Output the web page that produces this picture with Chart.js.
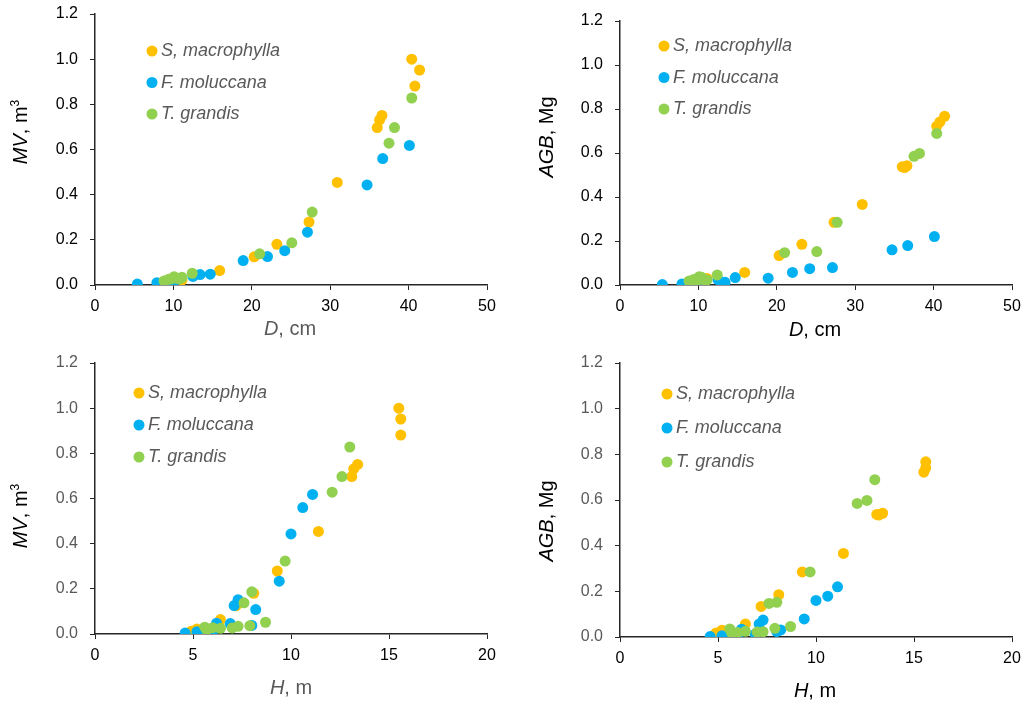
<!DOCTYPE html>
<html>
<head>
<meta charset="utf-8">
<title>MV and AGB vs D and H</title>
<script src="https://cdn.jsdelivr.net/npm/chart.js@4.4.1/dist/chart.umd.min.js"></script>
<style>
  body { margin: 0; background: #fff; }
  .panel { position: absolute; }
</style>
</head>
<body>
<div class="panel" style="left:0;top:0;width:514px;height:350px"><canvas id="mvD"></canvas></div>
<div class="panel" style="left:514px;top:0;width:514px;height:350px"><canvas id="agbD"></canvas></div>
<div class="panel" style="left:0;top:350px;width:514px;height:353px"><canvas id="mvH"></canvas></div>
<div class="panel" style="left:514px;top:350px;width:514px;height:353px"><canvas id="agbH"></canvas></div>
<script>
// --- data (one entry per tree) ---
const species = ['S, macrophylla', 'F. moluccana', 'T. grandis'];

const smD   = [41.4, 40.8, 40.4, 36.6, 36.3, 36.0, 30.9, 27.3, 23.2, 20.3, 15.9, 11.1, 9.2];
const smH   = [15.6, 15.6, 15.5, 13.4, 13.2, 13.1, 11.4, 9.3, 8.1, 7.2, 6.4, 5.2, 4.9];
const smMV  = [0.952, 0.881, 1.000, 0.751, 0.731, 0.697, 0.454, 0.279, 0.180, 0.125, 0.064, 0.022, 0.012];
const smAGB = [0.767, 0.741, 0.722, 0.542, 0.534, 0.537, 0.366, 0.285, 0.185, 0.134, 0.057, 0.030, 0.018];

const fmD   = [40.1, 36.7, 34.7, 27.1, 24.2, 22.0, 18.9, 14.7, 13.4, 12.5, 10.0, 9.0, 7.9, 5.4];
const fmH   = [11.1, 10.6, 10.0, 9.4, 7.3, 7.1, 8.2, 6.2, 6.9, 8.0, 6.0, 5.7, 5.2, 4.6];
const fmMV  = [0.618, 0.560, 0.443, 0.234, 0.152, 0.126, 0.108, 0.048, 0.046, 0.038, 0.010, 0.006, 0.010, 0.004];
const fmAGB = [0.220, 0.179, 0.160, 0.079, 0.074, 0.057, 0.031, 0.034, 0.012, 0.024, 0.006, 0.002, 0.005, 0.002];

const tgD   = [40.4, 38.2, 37.5, 27.7, 25.1, 21.0, 12.4, 11.1, 10.8, 10.1, 10.4, 9.8, 9.4, 8.8];
const tgH   = [13.0, 12.6, 12.1, 9.7, 8.0, 7.6, 8.7, 7.3, 7.0, 7.9, 5.6, 6.0, 6.4, 5.7];
const tgMV  = [0.828, 0.697, 0.628, 0.323, 0.187, 0.138, 0.052, 0.034, 0.027, 0.037, 0.030, 0.028, 0.025, 0.018];
const tgAGB = [0.689, 0.598, 0.585, 0.285, 0.152, 0.147, 0.046, 0.023, 0.022, 0.038, 0.035, 0.020, 0.025, 0.018];

const colors = ['#FFC000', '#00B0F0', '#92D050'];
const FONT = '"Liberation Sans", Arial, sans-serif';
const GREY = '#595959';

function pairs(xs, ys) {
    return xs.map((x, i) => ({ x: x, y: ys[i] }));
}

function makeDatasets(xsets, ysets) {
    return species.map((name, i) => ({
        label: name,
        data: pairs(xsets[i], ysets[i]),
        backgroundColor: colors[i],
        borderWidth: 0,
        pointRadius: 5.5,
        pointHoverRadius: 5.5,
        order: 3 - i // green on top, orange at the bottom
    }));
}

// draws a title made of pieces (italic / plain / superscript), centred on (x, y)
function drawRich(ctx, parts, x, y, rot, color) {
    const fontFor = p => p.sup ? `12px ${FONT}` : `${p.i ? 'italic ' : ''}20px ${FONT}`;
    let total = 0;
    parts.forEach(p => { ctx.font = fontFor(p); p.w = ctx.measureText(p.t).width; total += p.w; });
    ctx.save();
    ctx.translate(x, y);
    ctx.rotate(rot);
    ctx.fillStyle = color;
    ctx.textAlign = 'left';
    ctx.textBaseline = 'alphabetic';
    let cx = -total / 2;
    parts.forEach(p => {
        ctx.font = fontFor(p);
        ctx.fillText(p.t, cx, p.sup ? -1.5 : 7);
        cx += p.w;
    });
    ctx.restore();
}

const labelPlugin = {
    id: 'panelLabels',
    afterDraw(chart, args, opts) {
        const ctx = chart.ctx;
        drawRich(ctx, opts.xTitle, opts.xAt[0], opts.xAt[1], 0, opts.xColor);
        drawRich(ctx, opts.yTitle, opts.yAt[0], opts.yAt[1], -Math.PI / 2, opts.yColor);
        ctx.save();
        chart.data.datasets.forEach((ds, i) => {
            const y = opts.legend.y + i * opts.legend.dy;
            ctx.fillStyle = ds.backgroundColor;
            ctx.beginPath();
            ctx.arc(opts.legend.x, y, 5.5, 0, Math.PI * 2);
            ctx.fill();
            ctx.fillStyle = GREY;
            ctx.font = `italic 18px ${FONT}`;
            ctx.textAlign = 'left';
            ctx.textBaseline = 'middle';
            ctx.fillText(ds.label, opts.legend.x + 9, y);
        });
        ctx.restore();
    }
};

// fixed axis sizes so the plot areas land where the original has them
function fixSize(prop, size) {
    return s => {
        s[prop] = size;
        s.paddingTop = 0; s.paddingBottom = 0;
        s.paddingLeft = 0; s.paddingRight = 0;
    };
}

function makeChart(id, cfg) {
    const ctx = document.getElementById(id).getContext('2d');
    return new Chart(ctx, {
        type: 'scatter',
        data: { datasets: cfg.datasets },
        plugins: [labelPlugin],
        options: {
            responsive: true,
            maintainAspectRatio: false,
            animation: false,
            layout: { padding: { top: cfg.pad[0], right: cfg.pad[1], bottom: 0, left: 0 } },
            plugins: {
                legend: { display: false },
                tooltip: { enabled: true },
                panelLabels: cfg.labels
            },
            scales: {
                x: {
                    type: 'linear',
                    min: 0,
                    max: cfg.xMax,
                    ticks: { stepSize: cfg.xStep, color: cfg.xTickColor, padding: 7, font: { family: FONT, size: 16 } },
                    grid: { drawOnChartArea: false, tickLength: 5, color: '#262626', lineWidth: 1 },
                    border: { color: '#262626', width: 1.5 },
                    afterFit: fixSize('height', cfg.xH)
                },
                y: {
                    min: 0,
                    max: 1.2,
                    ticks: {
                        stepSize: 0.2,
                        color: cfg.yTickColor,
                        padding: 12,
                        font: { family: FONT, size: 16 },
                        callback: v => v.toFixed(1)
                    },
                    grid: { drawOnChartArea: false, tickLength: 5, color: '#262626', lineWidth: 1 },
                    border: { color: '#262626', width: 1.5 },
                    afterFit: fixSize('width', cfg.yW)
                }
            }
        }
    });
}

const mvTitle  = [{ t: 'MV', i: true }, { t: ', m' }, { t: '3', sup: true }];
const agbTitle = [{ t: 'AGB', i: true }, { t: ', Mg' }];
const dTitle   = [{ t: 'D', i: true }, { t: ', cm' }];
const hTitle   = [{ t: 'H', i: true }, { t: ', m' }];

makeChart('mvD', {
    datasets: makeDatasets([smD, fmD, tgD], [smMV, fmMV, tgMV]),
    xMax: 50, xStep: 10, yW: 95, xH: 65, pad: [14, 27],
    xTickColor: '#000', yTickColor: '#000',
    labels: { xTitle: dTitle, xAt: [290, 328], xColor: GREY,
              yTitle: mvTitle, yAt: [20, 132], yColor: '#000',
              legend: { x: 152, y: 51, dy: 31.5 } }
});

makeChart('agbD', {
    datasets: makeDatasets([smD, fmD, tgD], [smAGB, fmAGB, tgAGB]),
    xMax: 50, xStep: 10, yW: 106, xH: 65, pad: [21, 16],
    xTickColor: '#000', yTickColor: '#000',
    labels: { xTitle: dTitle, xAt: [301, 328.5], xColor: '#000',
              yTitle: agbTitle, yAt: [31.5, 137], yColor: '#000',
              legend: { x: 150, y: 46, dy: 31.5 } }
});

makeChart('mvH', {
    datasets: makeDatasets([smH, fmH, tgH], [smMV, fmMV, tgMV]),
    xMax: 20, xStep: 5, yW: 95, xH: 69, pad: [13, 27],
    xTickColor: '#000', yTickColor: GREY,
    labels: { xTitle: hTitle, xAt: [291, 336.5], xColor: GREY,
              yTitle: mvTitle, yAt: [20, 166], yColor: '#000',
              legend: { x: 139, y: 43, dy: 32 } }
});

makeChart('agbH', {
    datasets: makeDatasets([smH, fmH, tgH], [smAGB, fmAGB, tgAGB]),
    xMax: 20, xStep: 5, yW: 106, xH: 66, pad: [13, 16],
    xTickColor: '#000', yTickColor: GREY,
    labels: { xTitle: hTitle, xAt: [301, 340], xColor: '#000',
              yTitle: agbTitle, yAt: [31.5, 171], yColor: '#000',
              legend: { x: 153, y: 44, dy: 34 } }
});
</script>
</body>
</html>
